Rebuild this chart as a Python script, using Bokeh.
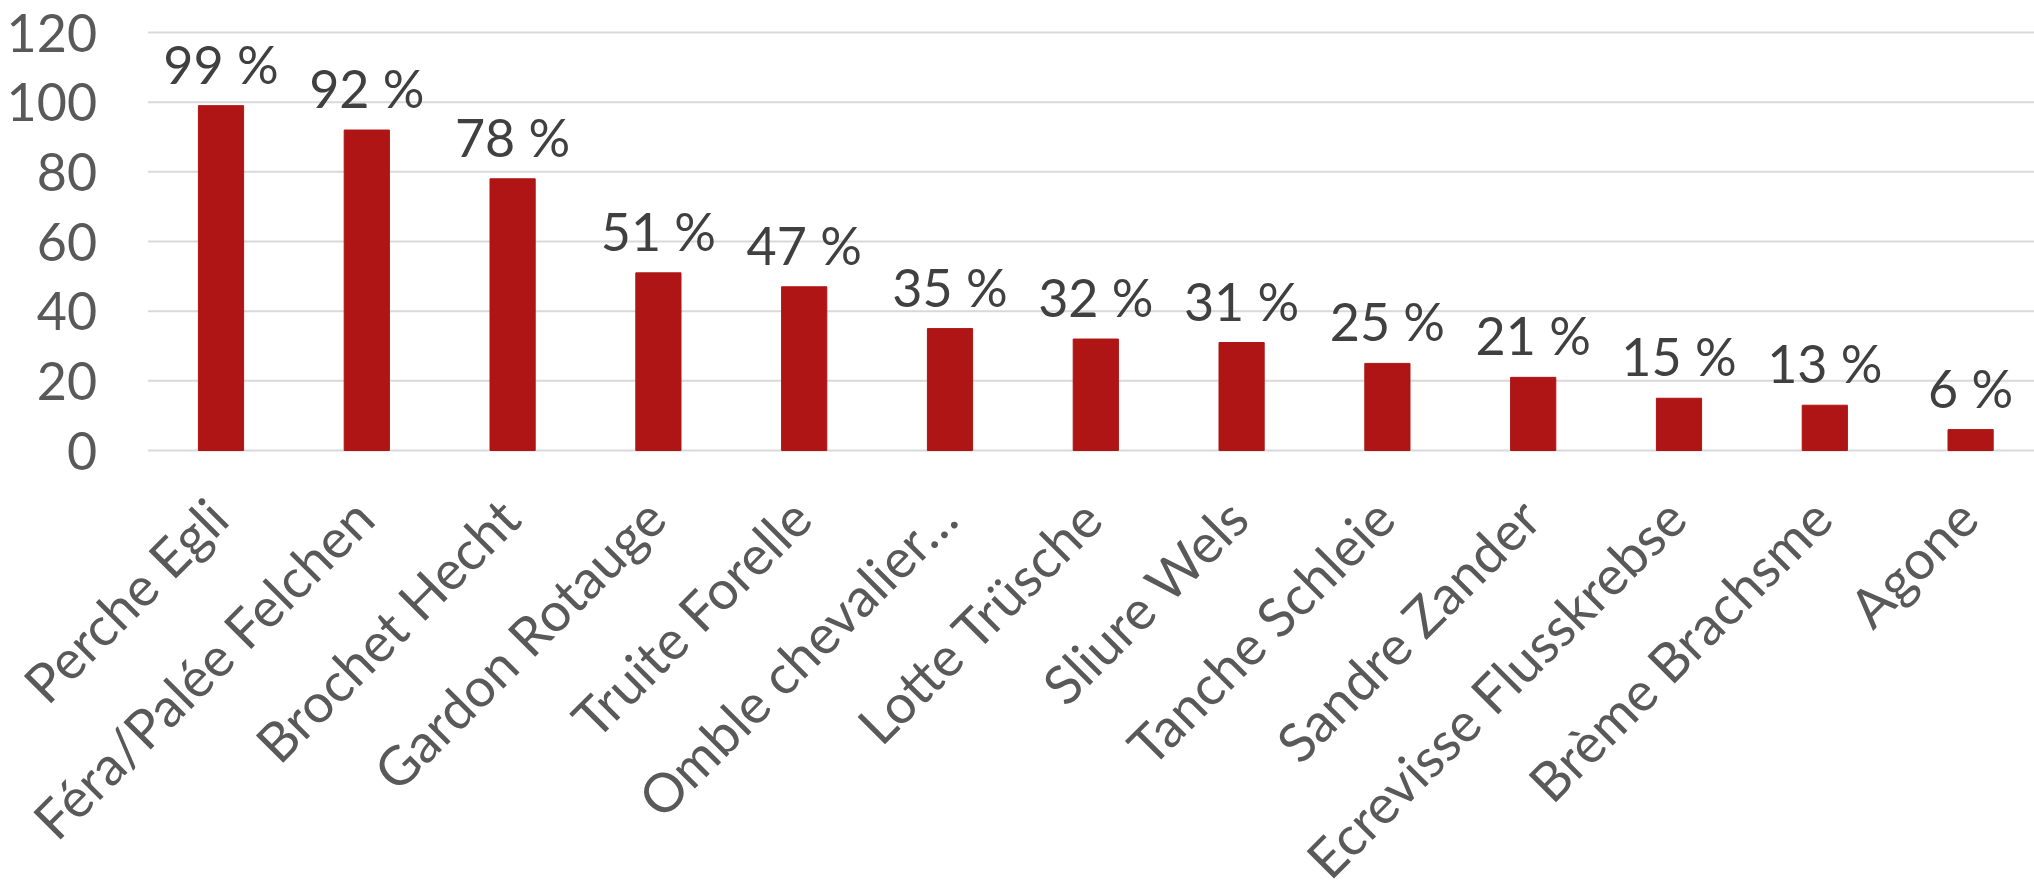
from bokeh.plotting import figure
from bokeh.models import Range1d, ColumnDataSource, LabelSet
from bokeh.core.properties import value
from bokeh.embed import file_html
from bokeh.resources import INLINE
import math

categories = ["Perche Egli", "Féra/Palée Felchen", "Brochet Hecht", "Gardon Rotauge",
              "Truite Forelle", "Omble chevalier…", "Lotte Trüsche", "Sliure Wels",
              "Tanche Schleie", "Sandre Zander", "Ecrevisse Flusskrebse",
              "Brème Brachsme", "Agone"]
values = [99, 92, 78, 51, 47, 35, 32, 31, 25, 21, 15, 13, 6]
y_ticks = [0, 20, 40, 60, 80, 100, 120]
y_tick_labels = ["0", "20", "40", "60", "80", "100", "120"]

# ---- layout constants (pixels) ----
W, H = 2034, 889
TOP_PX, ZERO_PX = 32, 450          # y of the 120 gridline and of the zero line
BAND_PX = 145.8                    # width of one category slot
FIRST_CENTER_PX = 220.5            # centre of first slot, from figure's left edge
y_unit = (ZERO_PX - TOP_PX) / y_ticks[-1]
y_max = y_ticks[-1] + TOP_PX / y_unit
y_min = -(H - ZERO_PX) / y_unit
x_min = -FIRST_CENTER_PX / BAND_PX
x_max = x_min + W / BAND_PX
grid_start = -0.5

xs = list(range(len(categories)))
src = ColumnDataSource(dict(x=xs, top=values, base=[0] * len(xs), cat=categories,
                            label=[f"{v} %" for v in values]))
grid_src = ColumnDataSource(dict(y=y_ticks, txt=y_tick_labels,
                                 x0=[grid_start] * len(y_ticks),
                                 x1=[x_max] * len(y_ticks)))

FONT = "Lato"

p = figure(width=W, height=H, output_backend="svg", toolbar_location=None,
           x_range=Range1d(x_min, x_max), y_range=Range1d(y_min, y_max),
           min_border=0)
p.outline_line_color = None
p.background_fill_color = "white"
p.border_fill_color = "white"
p.xaxis.visible = False
p.yaxis.visible = False
p.grid.visible = False

# gridlines
p.segment(x0="x0", x1="x1", y0="y", y1="y", source=grid_src,
          line_color="#D9D9D9", line_width=2)

# bars
p.vbar(x="x", top="top", width=0.31, source=src, color="#AF1515")

# value labels
p.add_layout(LabelSet(x="x", y="top", text="label", source=src, text_align="center",
                      text_baseline="alphabetic", y_offset=22, text_font=value(FONT),
                      text_font_size="52px", text_color="#404040"))

# y tick labels
p.add_layout(LabelSet(x="x0", y="y", text="txt", source=grid_src, text_align="right",
                      text_baseline="middle", x_offset=-51, text_font=value(FONT),
                      text_font_size="52px", text_color="#595959"))

# category labels
p.add_layout(LabelSet(x="x", y="base", text="cat", source=src, text_align="right",
                      text_baseline="alphabetic", angle=math.pi / 4, y_offset=-72,
                      x_offset=11, text_font=value(FONT), text_font_size="54px",
                      text_color="#595959"))

open("out.html", "w").write(file_html(p, INLINE))
